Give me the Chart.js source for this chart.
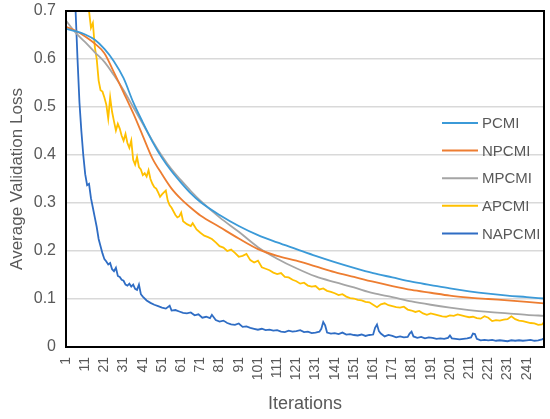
<!DOCTYPE html>
<html>
<head>
<meta charset="utf-8">
<script src="https://cdn.jsdelivr.net/npm/chart.js@4.4.0/dist/chart.umd.min.js"></script>
<style>
  html, body { margin: 0; padding: 0; background: #fff; }
  #wrap { width: 550px; height: 419px; }
</style>
</head>
<body>
<div id="wrap"><canvas id="lossChart"></canvas></div>
<script>
// iteration ticks shown on the x axis
const tickLabels = [1, 11, 21, 31, 41, 51, 61, 71, 81, 91, 101, 111, 121, 131, 141, 151, 161, 171, 181, 191, 201, 211, 221, 231, 241];

// smooth curves, read every few iterations
const smoothIters = [1, 6, 11, 16, 21, 26, 31, 36, 41, 46, 51, 56, 61, 66, 71, 81, 91, 101, 111, 121, 131, 141, 151, 161, 171, 181, 191, 201, 211, 221, 231, 241, 250];
const pcmi  = [0.663, 0.658, 0.651, 0.640, 0.621, 0.595, 0.560, 0.510, 0.468, 0.428, 0.394, 0.366, 0.342, 0.320, 0.302, 0.275, 0.252, 0.233, 0.218, 0.204, 0.190, 0.177, 0.165, 0.154, 0.145, 0.136, 0.129, 0.122, 0.116, 0.111, 0.107, 0.104, 0.101];
const npcmi = [0.667, 0.659, 0.647, 0.632, 0.612, 0.572, 0.530, 0.487, 0.440, 0.393, 0.360, 0.330, 0.308, 0.290, 0.274, 0.250, 0.226, 0.204, 0.190, 0.180, 0.168, 0.156, 0.146, 0.136, 0.127, 0.119, 0.113, 0.107, 0.103, 0.100, 0.097, 0.094, 0.091];
const mpcmi = [0.680, 0.655, 0.635, 0.614, 0.594, 0.566, 0.535, 0.500, 0.465, 0.430, 0.398, 0.370, 0.347, 0.325, 0.305, 0.270, 0.240, 0.208, 0.184, 0.164, 0.147, 0.135, 0.124, 0.112, 0.104, 0.095, 0.088, 0.082, 0.077, 0.073, 0.070, 0.067, 0.065];

// noisy curves
const apcmiIters = [1, 4, 7, 10, 12, 13, 14, 15, 16, 17, 18, 19, 20, 21, 22, 23, 24, 25, 26, 27, 28, 29, 30, 31, 32, 33, 34, 35, 36, 37, 38, 39, 40, 41, 42, 43, 44, 45, 46, 47, 48, 49, 50, 51, 52, 53, 54, 55, 56, 58, 59, 60, 61, 62, 64, 66, 67, 69, 71, 73, 75, 77, 79, 81, 83, 85, 87, 89, 91, 93, 95, 97, 99, 101, 103, 105, 107, 109, 111, 113, 115, 117, 119, 121, 123, 125, 127, 129, 131, 133, 135, 137, 139, 141, 143, 145, 147, 149, 151, 153, 155, 157, 159, 161, 163, 165, 167, 169, 171, 173, 175, 177, 179, 181, 183, 185, 187, 189, 191, 193, 195, 197, 199, 201, 203, 205, 207, 209, 211, 213, 215, 217, 219, 221, 223, 225, 227, 229, 231, 233, 235, 237, 239, 241, 243, 245, 247, 249, 250];
const apcmi = [1.30, 1.10, 0.93, 0.80, 0.72, 0.70, 0.665, 0.675, 0.625, 0.600, 0.555, 0.535, 0.532, 0.520, 0.505, 0.476, 0.520, 0.490, 0.470, 0.451, 0.465, 0.455, 0.440, 0.430, 0.444, 0.425, 0.415, 0.430, 0.390, 0.380, 0.396, 0.375, 0.370, 0.358, 0.362, 0.355, 0.368, 0.350, 0.340, 0.333, 0.330, 0.322, 0.313, 0.318, 0.322, 0.326, 0.305, 0.295, 0.290, 0.275, 0.270, 0.272, 0.280, 0.262, 0.256, 0.252, 0.258, 0.245, 0.238, 0.232, 0.229, 0.225, 0.218, 0.210, 0.207, 0.200, 0.203, 0.196, 0.188, 0.190, 0.194, 0.181, 0.176, 0.180, 0.166, 0.163, 0.160, 0.155, 0.152, 0.154, 0.146, 0.145, 0.140, 0.137, 0.132, 0.134, 0.128, 0.126, 0.127, 0.120, 0.122, 0.117, 0.115, 0.112, 0.108, 0.110, 0.105, 0.102, 0.101, 0.098, 0.097, 0.094, 0.093, 0.088, 0.083, 0.089, 0.091, 0.087, 0.085, 0.083, 0.082, 0.084, 0.078, 0.076, 0.073, 0.075, 0.070, 0.067, 0.070, 0.068, 0.066, 0.064, 0.063, 0.066, 0.065, 0.068, 0.066, 0.064, 0.062, 0.063, 0.060, 0.059, 0.064, 0.061, 0.054, 0.056, 0.055, 0.057, 0.058, 0.064, 0.058, 0.055, 0.054, 0.052, 0.050, 0.049, 0.046, 0.047, 0.052];

const napcmiIters = [1, 2, 3, 4, 5, 6, 7, 8, 9, 10, 11, 12, 13, 14, 15, 16, 17, 18, 19, 20, 21, 22, 23, 24, 25, 26, 27, 28, 29, 30, 31, 32, 33, 34, 35, 36, 37, 38, 39, 40, 41, 43, 45, 47, 49, 51, 53, 55, 56, 58, 60, 62, 64, 66, 68, 70, 72, 74, 76, 77, 79, 81, 83, 85, 87, 89, 91, 93, 95, 97, 99, 101, 103, 105, 107, 109, 111, 113, 115, 117, 119, 121, 123, 125, 127, 129, 131, 133, 134, 135, 136, 137, 139, 141, 143, 145, 147, 149, 151, 153, 155, 157, 159, 161, 162, 163, 164, 165, 167, 169, 171, 173, 175, 177, 179, 180, 181, 182, 184, 186, 188, 190, 192, 194, 196, 198, 200, 201, 202, 204, 206, 208, 210, 212, 213, 214, 215, 217, 219, 221, 223, 225, 227, 229, 231, 233, 235, 237, 239, 241, 243, 245, 247, 249, 250];
const napcmi = [1.20, 1.05, 0.95, 0.86, 0.78, 0.70, 0.60, 0.51, 0.45, 0.40, 0.36, 0.337, 0.340, 0.310, 0.290, 0.270, 0.250, 0.225, 0.210, 0.195, 0.183, 0.178, 0.172, 0.175, 0.162, 0.158, 0.165, 0.148, 0.146, 0.140, 0.138, 0.130, 0.128, 0.132, 0.126, 0.130, 0.121, 0.119, 0.130, 0.110, 0.105, 0.097, 0.092, 0.088, 0.085, 0.082, 0.080, 0.086, 0.076, 0.077, 0.074, 0.071, 0.070, 0.072, 0.066, 0.068, 0.061, 0.063, 0.060, 0.067, 0.056, 0.053, 0.055, 0.050, 0.047, 0.046, 0.049, 0.042, 0.043, 0.040, 0.038, 0.036, 0.038, 0.035, 0.036, 0.034, 0.035, 0.032, 0.031, 0.034, 0.032, 0.033, 0.035, 0.031, 0.032, 0.029, 0.030, 0.032, 0.038, 0.052, 0.045, 0.030, 0.028, 0.029, 0.027, 0.030, 0.026, 0.027, 0.025, 0.024, 0.026, 0.023, 0.025, 0.026, 0.040, 0.047, 0.033, 0.028, 0.022, 0.025, 0.023, 0.020, 0.022, 0.020, 0.021, 0.028, 0.032, 0.022, 0.019, 0.021, 0.018, 0.020, 0.019, 0.017, 0.018, 0.017, 0.019, 0.024, 0.018, 0.017, 0.016, 0.017, 0.018, 0.020, 0.028, 0.027, 0.017, 0.014, 0.015, 0.014, 0.015, 0.013, 0.014, 0.013, 0.012, 0.014, 0.013, 0.014, 0.013, 0.014, 0.015, 0.013, 0.014, 0.016, 0.018];

const toPoints = (xs, ys) => xs.map((x, i) => ({ x: x, y: ys[i] }));

const textColor = '#595959';
const fontFamily = '"Liberation Sans", Arial, Helvetica, sans-serif';

// legend drawn inside the plot, on the right, plus the black frame
const insideLegend = {
  id: 'insideLegend',
  afterDraw(chart) {
    const c = chart.ctx;
    c.save();
    c.font = '15px ' + fontFamily;
    c.textBaseline = 'middle';
    chart.data.datasets.forEach((ds, i) => {
      const y = 123 + i * 27.6;
      c.strokeStyle = ds.borderColor;
      c.lineWidth = 2;
      c.beginPath();
      c.moveTo(442, y);
      c.lineTo(478, y);
      c.stroke();
      c.fillStyle = textColor;
      c.fillText(ds.label, 482, y + 1);
    });
    const a = chart.chartArea;
    c.strokeStyle = '#000';
    c.lineWidth = 2;
    c.strokeRect(a.left, a.top, a.right - a.left, a.bottom - a.top);
    c.restore();
  }
};

const line = (label, color, data) => ({
  label: label,
  data: data,
  borderColor: color,
  backgroundColor: color,
  borderWidth: 1.8,
  pointRadius: 0,
  fill: false,
  tension: 0,
  clip: 0
});

new Chart(document.getElementById('lossChart').getContext('2d'), {
  type: 'line',
  data: {
    datasets: [
      Object.assign(line('PCMI', '#3B9AD8', toPoints(smoothIters, pcmi)), { cubicInterpolationMode: 'monotone' }),
      Object.assign(line('NPCMI', '#ED7D31', toPoints(smoothIters, npcmi)), { cubicInterpolationMode: 'monotone' }),
      Object.assign(line('MPCMI', '#A5A5A5', toPoints(smoothIters, mpcmi)), { cubicInterpolationMode: 'monotone' }),
      line('APCMI', '#FFC000', toPoints(apcmiIters, apcmi)),
      line('NAPCMI', '#2F6DC4', toPoints(napcmiIters, napcmi))
    ]
  },
  options: {
    responsive: true,
    maintainAspectRatio: false,
    animation: false,
    layout: { padding: { top: 11, right: 6, left: 0, bottom: 0 } },
    plugins: {
      legend: { display: false },
      tooltip: { enabled: false }
    },
    scales: {
      x: {
        type: 'linear',
        min: 1,
        max: 250,
        afterBuildTicks: (axis) => { axis.ticks = tickLabels.map(v => ({ value: v })); },
        afterFit: (axis) => { axis.height = 72; axis.paddingLeft = 0; axis.paddingRight = 0; },
        grid: { display: false, drawTicks: false },
        border: { display: false },
        ticks: {
          autoSkip: false,
          minRotation: 90,
          maxRotation: 90,
          padding: 10,
          color: textColor,
          font: { size: 14, family: fontFamily }
        },
        title: {
          display: true,
          text: 'Iterations',
          color: textColor,
          padding: { top: 0, bottom: 4 },
          font: { size: 18, family: fontFamily }
        }
      },
      y: {
        min: 0,
        max: 0.7,
        afterFit: (axis) => { axis.width = 66; axis.paddingTop = 0; axis.paddingBottom = 0; },
        grid: { color: '#D9D9D9', lineWidth: 1.5, drawTicks: false },
        border: { display: false },
        ticks: {
          stepSize: 0.1,
          padding: 10,
          color: textColor,
          font: { size: 16, family: fontFamily }
        },
        title: {
          display: true,
          text: 'Average Validation Loss',
          color: textColor,
          padding: { top: 7, bottom: 0 },
          font: { size: 17, family: fontFamily }
        }
      }
    }
  },
  plugins: [insideLegend]
});
</script>
</body>
</html>
